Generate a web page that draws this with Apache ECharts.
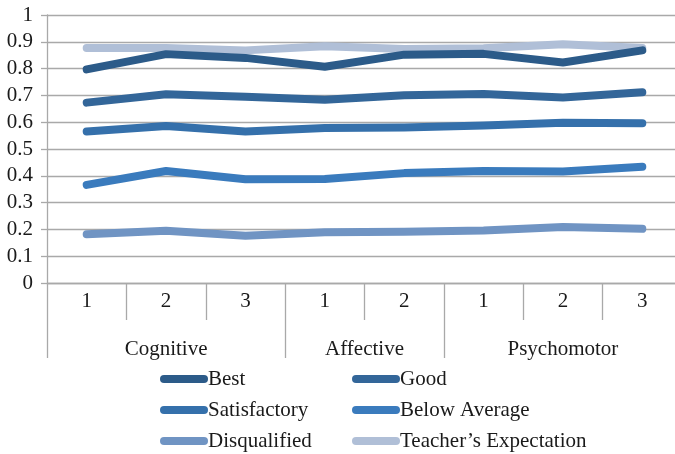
<!DOCTYPE html>
<html>
<head>
<meta charset="utf-8">
<script src="https://cdn.jsdelivr.net/npm/echarts@6/dist/echarts.min.js"></script>
<style>
  html, body { margin: 0; padding: 0; background: #fff; }
  #main { width: 675px; height: 454px; }
</style>
</head>
<body>
<div id="main"></div>
<script>
// sub-level categories (x axis, first row)
var levels = ['1', '2', '3', '1', '2', '1', '2', '3'];
// domain groups (x axis, second row): name, first index, count
var groupNames = ['Cognitive', 'Affective', 'Psychomotor'];
var groupStart = [0, 3, 5];
var groupSize = [3, 2, 3];

var best = [0.797, 0.854, 0.840, 0.807, 0.852, 0.855, 0.823, 0.868];
var good = [0.673, 0.704, 0.695, 0.684, 0.701, 0.705, 0.692, 0.712];
var satisfactory = [0.565, 0.586, 0.565, 0.578, 0.580, 0.588, 0.598, 0.596];
var belowAverage = [0.366, 0.418, 0.387, 0.388, 0.410, 0.418, 0.416, 0.434];
var disqualified = [0.182, 0.195, 0.176, 0.189, 0.191, 0.196, 0.209, 0.202];
var teacher = [0.877, 0.877, 0.868, 0.883, 0.873, 0.876, 0.891, 0.877];

var yTicks = [0, 0.1, 0.2, 0.3, 0.4, 0.5, 0.6, 0.7, 0.8, 0.9, 1];

var font = '"Liberation Serif", "DejaVu Serif", serif';
var gridColor = '#a9a9a9';

// group boundaries and centres on a 0..8 value scale
var bounds = [0];
var centres = [];
for (var i = 0; i < groupNames.length; i++) {
  bounds.push(groupStart[i] + groupSize[i]);
  centres.push(groupStart[i] + groupSize[i] / 2);
}

function line(name, data, color, z) {
  return {
    name: name,
    type: 'line',
    data: data,
    showSymbol: false,
    symbol: 'none',
    z: z,
    color: color,
    lineStyle: { width: 8, color: color, cap: 'round', join: 'round' }
  };
}

var capsule = 'path://M4,0 L44,0 A4,4 0 0 1 44,8 L4,8 A4,4 0 0 1 4,0 Z';
var legendText = { fontFamily: font, fontSize: 21, color: '#1a1a1a', lineHeight: 20, padding: [0, 0, 0, -5] };

var myChart = echarts.init(document.getElementById('main'));
myChart.setOption({
  animation: false,
  grid: { left: 47, width: 635, top: 15, height: 268, containLabel: false, outerBoundsMode: 'none' },
  legend: [{
    orient: 'vertical',
    left: 160, top: 368.5, height: 120, padding: 0,
    icon: capsule, itemWidth: 48, itemHeight: 8, itemGap: 10,
    textStyle: legendText,
    data: ['Best', 'Satisfactory', 'Disqualified']
  }, {
    orient: 'vertical',
    left: 352, top: 368.5, height: 120, padding: 0,
    icon: capsule, itemWidth: 48, itemHeight: 8, itemGap: 10,
    textStyle: legendText,
    data: ['Good', 'Below Average', 'Teacher\u2019s Expectation']
  }],
  xAxis: [{
    type: 'category',
    data: levels,
    boundaryGap: true,
    axisLine: { show: true, lineStyle: { color: gridColor, width: 1.3 } },
    axisTick: { show: true, interval: 0, length: 37, lineStyle: { color: gridColor, width: 1.3 } },
    axisLabel: { interval: 0, margin: 8, fontFamily: font, fontSize: 21, color: '#1a1a1a' }
  }, {
    type: 'value',
    min: 0, max: 8,
    position: 'bottom',
    offset: 37,
    axisLine: { show: false },
    splitLine: { show: false },
    axisTick: { show: true, customValues: bounds, length: 38, lineStyle: { color: gridColor, width: 1.3 } },
    axisLabel: {
      customValues: centres,
      margin: 19,
      fontFamily: font, fontSize: 21, color: '#1a1a1a',
      formatter: function (v) {
        var k = centres.indexOf(v);
        return k >= 0 ? groupNames[k] : '';
      }
    }
  }],
  yAxis: {
    type: 'value',
    min: 0, max: 1, interval: 0.1,
    axisLine: { show: true, lineStyle: { color: gridColor, width: 1.3 } },
    axisTick: { show: true, length: 6, lineStyle: { color: gridColor, width: 1.3 } },
    splitLine: { show: true, lineStyle: { color: gridColor, width: 1.3 } },
    axisLabel: {
      margin: 14, fontFamily: font, fontSize: 21, color: '#1a1a1a',
      formatter: function (v) {
        var t = yTicks.find(function (y) { return Math.abs(y - v) < 1e-6; });
        return t === undefined ? '' : String(t);
      }
    }
  },
  series: [
    line('Teacher\u2019s Expectation', teacher, '#b0bfd7', 2),
    line('Best', best, '#2c5b89', 3),
    line('Good', good, '#336699', 3),
    line('Satisfactory', satisfactory, '#3570ab', 3),
    line('Below Average', belowAverage, '#3a7bbd', 3),
    line('Disqualified', disqualified, '#7094c3', 3)
  ]
});
</script>
</body>
</html>
